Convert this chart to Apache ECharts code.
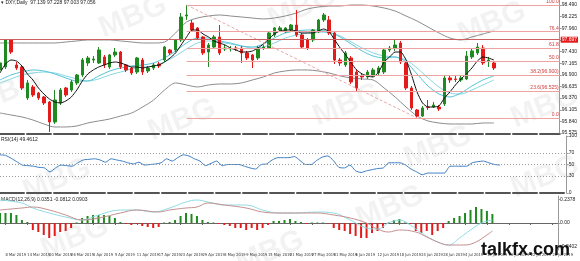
<!DOCTYPE html>
<html><head><meta charset="utf-8">
<script src="https://cdn.jsdelivr.net/npm/echarts@6/dist/echarts.min.js"></script>
<style>html,body{margin:0;padding:0;background:#fff;overflow:hidden}#c{width:580px;height:261px}</style>
</head><body><div id="c"></div>
<script>
// ---- categories (trading days) ----
const marDays=[7,8,11,12,13,14,15,18,19,20,21,22,25,26,27,28,29];
const aprDays=[1,2,3,4,5,8,9,10,11,12,15,16,17,18,19,22,23,24,25,26,29,30];
const mayDays=[1,2,3,6,7,8,9,10,13,14,15,16,17,20,21,22,23,24,27,28,29,30,31];
const junDays=[3,4,5,6,7,10,11,12,13,14,17,18,19,20,21,24,25,26,27,28];
const julDays=[1,2,3,4,5,8,9,10,11,12,15,16,17,18,19,22,23,24,25,26,29];
const categories=[].concat(
  marDays.map(d=>d+' Mar 2019'),aprDays.map(d=>d+' Apr 2019'),mayDays.map(d=>d+' May 2019'),
  junDays.map(d=>d+' Jun 2019'),julDays.map(d=>d+' Jul 2019'));

// ---- candles [open, close, low, high] ----
const candles=[
[97.011,97.170,96.965,97.216],[97.079,97.694,97.034,97.716],[97.694,97.420,97.375,97.716],[97.125,97.056,97.011,97.193],
[97.079,96.601,96.555,97.125],[96.373,96.715,96.328,96.783],[96.624,96.441,96.396,96.669],[96.487,96.373,96.328,96.510],
[96.396,96.259,96.214,96.419],[96.282,95.827,95.599,96.305],[95.827,96.328,95.781,96.555],[96.259,96.555,96.214,96.601],
[96.601,96.441,96.396,96.624],[96.555,96.738,96.510,96.783],[96.715,96.897,96.669,96.920],[96.897,97.238,96.851,97.284],
[97.170,97.284,97.102,97.329],[97.238,97.261,97.170,97.329],[97.170,97.466,97.147,97.534],[97.307,97.125,97.056,97.352],
[97.079,97.352,97.034,97.375],[97.352,97.420,97.307,97.511],[97.420,97.079,97.034,97.443],[97.125,97.011,96.965,97.147],
[97.056,96.942,96.897,97.079],[96.965,97.284,96.920,97.307],[97.238,96.965,96.897,97.284],[96.988,97.056,96.942,97.102],
[97.056,97.125,97.011,97.170],[97.147,97.102,97.056,97.193],[97.238,97.534,97.193,97.557],[97.466,97.398,97.352,97.489],
[97.466,97.694,97.420,97.716],[97.694,98.217,97.648,98.308],[98.240,98.263,98.149,98.490],[98.080,97.921,97.876,98.149],
[97.967,97.739,97.694,97.989],[97.762,97.398,97.352,97.785],[97.420,97.580,97.079,97.625],[97.534,97.762,97.489,97.807],
[97.762,97.398,97.352,98.035],[97.489,97.511,97.443,97.580],[97.489,97.500,97.432,97.557],[97.511,97.489,97.443,97.557],
[97.511,97.398,97.170,97.557],[97.398,97.284,97.238,97.443],[97.352,97.238,97.056,97.375],[97.284,97.511,97.238,97.557],
[97.511,97.534,97.466,97.580],[97.511,97.853,97.489,97.876],[97.807,97.967,97.762,97.989],[97.921,97.967,97.876,98.012],
[97.876,97.967,97.853,97.989],[97.921,98.035,97.876,98.058],[98.035,97.807,97.762,98.376],[97.807,97.534,97.489,97.853],
[97.694,97.511,97.466,97.739],[97.694,97.921,97.648,97.944],[97.876,98.149,97.853,98.172],[98.149,98.263,98.103,98.308],
[98.149,97.853,97.807,98.240],[97.853,97.238,97.147,97.876],[97.238,97.170,97.102,97.284],[97.125,97.398,97.079,97.443],
[97.284,96.738,96.692,97.329],[96.965,96.601,96.510,97.011],[96.874,96.851,96.783,96.942],[96.851,96.965,96.806,97.011],
[96.897,97.011,96.851,97.056],[96.942,97.056,96.897,97.102],[96.965,97.466,96.920,97.511],[97.466,97.511,97.420,97.557],
[97.511,97.580,97.443,97.694],[97.625,97.193,97.147,97.671],[97.170,96.601,96.555,97.216],[96.601,96.146,96.100,96.646],
[96.100,95.963,95.918,96.123],[95.963,96.146,95.941,96.191],[96.168,96.160,96.100,96.328],[96.168,96.214,96.146,96.282],
[96.168,96.123,96.077,96.214],[96.237,96.829,96.191,96.874],[96.829,96.783,96.715,96.897],[96.806,96.795,96.738,96.874],
[96.783,96.829,96.738,96.874],[96.806,97.329,96.783,97.443],[97.307,97.443,97.261,97.489],[97.398,97.534,97.352,97.625],
[97.511,97.170,97.125,97.580],[97.216,97.238,97.079,97.307],[97.170,97.056,97.011,97.216]];

// ---- overlays ----
const maBlack=[96.942,97.147,97.238,97.216,97.102,96.920,96.783,96.601,96.464,96.350,96.282,96.259,96.305,96.396,96.555,96.760,
96.920,97.011,97.079,97.125,97.170,97.193,97.170,97.125,97.079,97.079,97.056,97.079,97.102,97.125,97.193,97.284,97.398,97.580,
97.762,97.921,97.921,97.830,97.762,97.671,97.625,97.580,97.511,97.466,97.420,97.420,97.443,97.511,97.602,97.716,97.830,97.898,
97.921,97.921,97.898,97.853,97.853,97.853,97.898,97.944,97.876,97.694,97.511,97.352,97.170,97.011,96.920,96.874,96.851,96.965,
97.193,97.307,97.420,97.420,97.238,96.897,96.510,96.259,96.168,96.168,96.191,96.373,96.510,96.669,96.806,96.920,97.056,97.216,
97.307,97.284,97.238];
const evenIdx=[0,2,4,6,8,10,12,14,16,18,20,22,24,26,28,30,32,34,36,38,40,42,44,46,48,50,52,54,56,58,60,62,64,66,68,70,72,74,76,78,80,82,84,86,88,90];
const maCyanA=[96.783,96.897,96.965,97.011,96.988,96.920,96.829,96.760,96.760,96.874,96.988,97.056,97.102,97.125,97.170,97.284,
97.443,97.625,97.739,97.739,97.671,97.625,97.557,97.534,97.602,97.739,97.853,97.898,97.921,97.921,97.876,97.762,97.602,97.443,
97.329,97.284,97.307,97.193,96.920,96.646,96.464,96.396,96.487,96.646,96.783,96.874];
const maCyanB=[96.715,96.806,96.897,96.942,96.965,96.942,96.874,96.806,96.760,96.806,96.897,96.965,97.034,97.079,97.102,97.193,
97.329,97.489,97.625,97.671,97.648,97.602,97.557,97.511,97.534,97.625,97.739,97.807,97.853,97.876,97.853,97.785,97.648,97.511,
97.398,97.329,97.307,97.238,97.056,96.829,96.624,96.487,96.464,96.555,96.669,96.783];
const bbUpper=[97.625,97.625,97.625,97.625,97.625,97.625,97.648,97.671,97.694,97.694,97.694,97.671,97.648,97.625,97.625,97.648,
97.853,98.103,98.194,98.240,98.263,98.240,98.217,98.194,98.172,98.194,98.240,98.308,98.399,98.445,98.467,98.467,98.490,98.490,
98.467,98.422,98.354,98.240,98.126,97.989,97.853,97.739,97.694,97.762,97.830,97.898];
const bbLower=[96.032,95.986,95.941,95.872,95.781,95.713,95.713,95.736,95.804,95.850,95.895,95.963,96.032,96.168,96.328,96.555,
96.715,96.669,96.624,96.669,96.692,96.692,96.715,96.783,96.851,96.942,96.988,97.011,97.011,96.988,96.942,96.874,96.829,96.806,
96.783,96.601,96.396,96.168,95.963,95.850,95.804,95.781,95.781,95.781,95.804,95.804];

// ---- fibonacci / levels ----
const fibLevels=[98.490,97.883,97.508,97.204,96.900,96.525,95.918];
const fibNames=['100.0','76.4','61.8','50.0','38.2(96.900)','23.6(96.525)','0.0'];
const fibStartIdx=34, fibEndIdx=76;
const alertLevel=97.697, lastPrice=97.056;
const mainTicks=[98.490,98.225,97.960,97.695,97.430,97.165,96.900,96.635,96.370,96.105,95.840,95.575];

// ---- RSI ----
const rsi=[67,66,61,55,49,48,47,45,44,37,44,49,48,47,53,58,59,60,58,54,60,58,56,53,51,54,49,50,51,53,60,56,62,67,65,60,56,48,52,56,
48,50,50,50,47,44,42,50,51,58,62,62,62,64,57,50,50,57,63,65,57,45,44,49,39,36,39,41,43,44,53,53,53,49,42,37,32,35,35,35,35,47,47,47,47,53,55,56,53,50,49];
const rsiLevels=[70,50,30];
const rsiTicks=[100,70,50,30,0];

// ---- MACD ----
const macdHist=[0.10,0.10,0.10,0.08,0.03,0.01,-0.07,-0.09,-0.12,-0.15,-0.13,-0.09,-0.08,-0.05,0.005,0.05,0.07,0.08,0.08,0.08,0.07,0.05,0.01,-0.01,-0.02,-0.01,-0.03,-0.04,-0.05,-0.04,
0.005,0.01,0.03,0.07,0.10,0.09,0.07,0.03,0.01,0.005,-0.01,-0.02,-0.03,-0.05,-0.05,-0.07,-0.05,-0.07,-0.05,-0.02,0.02,0.02,0.03,0.04,0.02,0.01,-0.01,0.005,0.005,0.005,
-0.005,-0.05,-0.07,-0.08,-0.11,-0.13,-0.15,-0.15,-0.10,-0.08,-0.05,0.005,0.03,0.04,0.005,-0.01,-0.08,-0.10,-0.08,-0.12,-0.08,-0.05,0.02,0.05,0.07,0.10,0.13,0.16,0.14,0.12,0.09];
const macdCyanIdx=[0,4,6,9,12,15,18,22,25,28,31,34,36,38,41,45,48,51,54,58,61,64,67,69,71,73,75,77,80,82,84,86,88,90];
const macdCyan=[0.23,0.20,0.15,0.10,0.06,0.03,0.08,0.13,0.13,0.11,0.15,0.21,0.23,0.21,0.18,0.18,0.13,0.10,0.10,0.11,0.10,0.03,-0.05,-0.06,0.00,0.03,-0.02,-0.10,-0.19,-0.22,-0.15,-0.07,0.00,0.03];
const macdBrownIdx=[0,4,6,9,12,15,18,22,25,29,31,34,36,38,41,45,48,51,54,58,61,64,67,69,71,73,76,78,80,82,85,87,89,90];
const macdBrown=[0.13,0.15,0.16,0.13,0.08,0.03,0.05,0.10,0.13,0.11,0.13,0.15,0.16,0.20,0.18,0.15,0.11,0.10,0.10,0.10,0.08,0.05,0.00,-0.06,-0.09,-0.07,-0.09,-0.14,-0.19,-0.22,-0.22,-0.19,-0.12,-0.08];
const macdTicks=[0.2378,0,-0.2402];

const FONT='"Liberation Sans", Arial, sans-serif';
const NARROW='"Liberation Sans Narrow", "DejaVu Sans Condensed", "Liberation Sans", sans-serif';
const GREEN='#1f8a1f', RED='#e31b1b';
const pairs=(idx,vals)=>idx.map((i,k)=>[i,vals[k]]);

const chart=echarts.init(document.getElementById('c'),null,{renderer:'canvas'});
const xBase={type:'category',data:categories,boundaryGap:false,axisTick:{show:false},axisLabel:{show:false},splitLine:{show:false}};
const fibLines=fibLevels.map((v,k)=>[{coord:[fibStartIdx,v],label:{formatter:fibNames[k]}},{coord:[categories.length-1,v]}]);

const wm=[[133,17],[302,8],[492,23],[8,92],[182,120],[347,105],[545,107],[57,180],[438,147],[545,177],[75,238],[390,207],[270,252]];

chart.setOption({
  animation:false,
  textStyle:{fontFamily:FONT},
  grid:[
    {left:0,right:13,top:0,height:134},
    {left:0,right:13,top:136,height:57},
    {left:0,right:13,top:196,height:54}
  ],
  xAxis:[
    Object.assign({},xBase,{gridIndex:0,axisLine:{show:true,lineStyle:{color:'#555',width:2,type:[24,3]}}}),
    Object.assign({},xBase,{gridIndex:1,axisLine:{show:true,lineStyle:{color:'#555',width:2,type:[24,3]}}}),
    Object.assign({},xBase,{gridIndex:2,axisLine:{show:true,lineStyle:{color:'#666',width:1}},
      axisTick:{show:true,length:2,interval:(i)=>i%4===1,lineStyle:{color:'#666'}},
      axisLabel:{show:true,interval:(i)=>i%4===1,align:'left',fontSize:4,color:'#333',margin:3,fontFamily:NARROW}})
  ],
  yAxis:[
    {type:'value',gridIndex:0,position:'right',min:95.553,max:98.604,splitLine:{show:false},
      axisLine:{show:true,lineStyle:{color:'#999'}},axisTick:{show:true,length:2,customValues:mainTicks,lineStyle:{color:'#999'}},
      axisLabel:{customValues:mainTicks,formatter:v=>v.toFixed(3),fontSize:5,color:'#222',margin:2,fontFamily:FONT}},
    {type:'value',gridIndex:1,position:'right',min:0,max:100,splitLine:{show:false},
      axisLine:{show:true,lineStyle:{color:'#999'}},axisTick:{show:true,length:2,customValues:rsiTicks,lineStyle:{color:'#999'}},
      axisLabel:{customValues:rsiTicks,fontSize:5,color:'#222',margin:2,fontFamily:FONT}},
    {type:'value',gridIndex:2,position:'right',min:-0.27,max:0.27,splitLine:{show:false},
      axisLine:{show:true,lineStyle:{color:'#999'}},axisTick:{show:true,length:2,customValues:macdTicks,lineStyle:{color:'#999'}},
      axisLabel:{customValues:macdTicks,formatter:v=>v===0?'0.00':v.toFixed(4),fontSize:5,color:'#222',margin:2,fontFamily:FONT}}
  ],
  series:[
    {type:'line',xAxisIndex:0,yAxisIndex:0,data:pairs(evenIdx,bbUpper),showSymbol:false,smooth:0.3,lineStyle:{color:'#8c8c8c',width:1},z:2},
    {type:'line',xAxisIndex:0,yAxisIndex:0,data:pairs(evenIdx,bbLower),showSymbol:false,smooth:0.3,lineStyle:{color:'#8c8c8c',width:1},z:2},
    {type:'line',xAxisIndex:0,yAxisIndex:0,data:pairs(evenIdx,maCyanB),showSymbol:false,smooth:0.3,lineStyle:{color:'#86d6e2',width:1},z:2},
    {type:'line',xAxisIndex:0,yAxisIndex:0,data:pairs(evenIdx,maCyanA),showSymbol:false,smooth:0.3,lineStyle:{color:'#55c3d6',width:1},z:2},
    {type:'candlestick',xAxisIndex:0,yAxisIndex:0,data:candles,barWidth:3,z:3,
      itemStyle:{color:GREEN,color0:RED,borderColor:GREEN,borderColor0:RED,borderWidth:1},
      markLine:{silent:true,symbol:'none',animation:false,
        lineStyle:{color:'#eea3a3',width:1,type:'solid'},
        label:{position:'insideEndTop',fontSize:5,color:'#d23a3a',distance:1,fontFamily:FONT},
        data:[
          ...fibLines,
          [{coord:[fibStartIdx,fibLevels[0]],label:{show:false},lineStyle:{type:[3,2],color:'#e8a8a8'}},{coord:[fibEndIdx,fibLevels[6]]}],
          {yAxis:alertLevel,lineStyle:{color:'#c86060',width:1,type:'solid'},
            label:{position:'end',formatter:alertLevel.toFixed(3),backgroundColor:'#e31b1b',color:'#fff',fontSize:5,padding:[1,1,0,1],distance:1}},
          {yAxis:lastPrice,lineStyle:{opacity:0},
            label:{position:'end',formatter:lastPrice.toFixed(3),backgroundColor:'#000',color:'#fff',fontSize:5,padding:[1,1,0,1],distance:1}}
        ]}},
    {type:'line',xAxisIndex:0,yAxisIndex:0,data:maBlack,showSymbol:false,smooth:0.2,lineStyle:{color:'#111',width:1},z:4},
    {type:'line',xAxisIndex:1,yAxisIndex:1,data:rsi,showSymbol:false,smooth:0.2,lineStyle:{color:'#3a7cc0',width:1},
      markLine:{silent:true,symbol:'none',label:{show:false},lineStyle:{color:'#9a9a9a',type:[1,2],width:1},
        data:rsiLevels.map(v=>({yAxis:v}))}},
    {type:'bar',xAxisIndex:2,yAxisIndex:2,data:macdHist,barWidth:2,
      itemStyle:{color:(p)=>p.value>=0?GREEN:RED}},
    {type:'line',xAxisIndex:2,yAxisIndex:2,data:pairs(macdCyanIdx,macdCyan),showSymbol:false,smooth:0.4,lineStyle:{color:'#8fdbe6',width:1}},
    {type:'line',xAxisIndex:2,yAxisIndex:2,data:pairs(macdBrownIdx,macdBrown),showSymbol:false,smooth:0.4,lineStyle:{color:'#c49090',width:1}}
  ],
  graphic:[
    ...wm.map(([x,y])=>({type:'text',x:x,y:y,rotation:0.38,silent:true,z:0,
      style:{text:'MBG',font:'bold 30px '+FONT,fill:'rgba(0,0,0,0.05)',align:'center',verticalAlign:'middle'}})),
    {type:'text',left:1,top:0,silent:true,style:{text:'\u25BE DXY,Daily  97.139 97.228 97.003 97.056',font:'5px '+FONT,fill:'#222'}},
    {type:'text',left:1,top:137,silent:true,style:{text:'RSI(14) 49.4612',font:'5px '+FONT,fill:'#222'}},
    {type:'text',left:1,top:197,silent:true,style:{text:'MACD(12,26,9) 0.0351 -0.0812 0.0903',font:'5px '+FONT,fill:'#222'}},
    {type:'text',x:481,y:259,silent:true,z:100,style:{text:'talkfx.com',font:'bold 18px '+FONT,fill:'#111',verticalAlign:'bottom'}}
  ]
});
</script></body></html>
